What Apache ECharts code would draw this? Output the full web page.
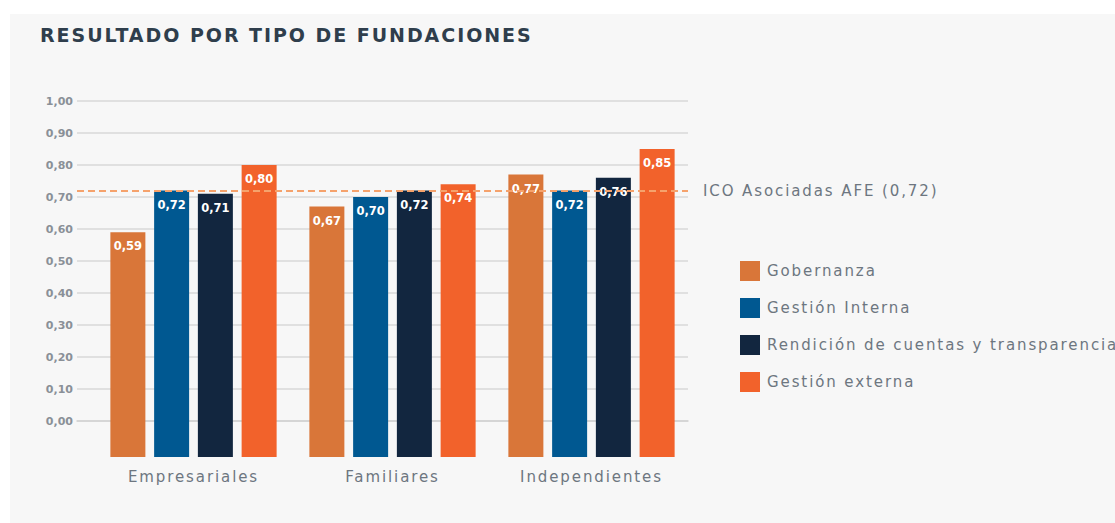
<!DOCTYPE html>
<html>
<head>
<meta charset="utf-8">
<script src="https://cdn.jsdelivr.net/npm/echarts@6/dist/echarts.min.js"></script>
<style>
    html, body { margin: 0; padding: 0; background: #fff; }
    #panel { position: absolute; left: 10px; top: 14px; width: 1105px; height: 509px; background: #f7f7f7; }
    #chart { position: absolute; left: 0; top: 0; width: 1115px; height: 523px; }
    /* texto espaciado como en el original */
    #chart text[style*="15px"] { letter-spacing: 1.9px; }
    #chart text[style*="19px"] { letter-spacing: 1.95px; }
</style>
</head>
<body>
<div id="panel"></div>
<div id="chart"></div>
<script>
    let categories = ['Empresariales', 'Familiares', 'Independientes'];
    let gobernanza = [0.59, 0.67, 0.77];
    let gestionInterna = [0.72, 0.70, 0.72];
    let rendicion = [0.71, 0.72, 0.76];
    let gestionExterna = [0.80, 0.74, 0.85];
    let icoAfe = 0.72;//línea de referencia

    function coma(v) {
        return v.toFixed(2).replace('.', ',');
    }

    let myChart = echarts.init(document.getElementById('chart'), null, { renderer: 'svg' });

    let textGris = '#6d7680';
    let fuente = 'DejaVu Sans';

    function barra(name, data, color) {
        return {
            name: name,
            type: 'bar',
            xAxisIndex: 1,
            yAxisIndex: 1,
            barWidth: 35,
            barGap: '25%',
            itemStyle: { color: color },
            label: {
                show: true,
                position: 'insideTop',
                distance: 8,
                color: '#fff',
                fontSize: 11.5,
                fontWeight: 'bold',
                fontFamily: fuente,
                formatter: p => coma(p.value)
            },
            data: data
        };
    }

    let option = {
        title: {
            text: 'RESULTADO POR TIPO DE FUNDACIONES',
            left: 40,
            top: 25,
            padding: 0,
            textStyle: {
                color: '#2f3e4c',
                fontSize: 19,
                fontWeight: 'bold',
                fontFamily: fuente
            }
        },
        legend: {
            orient: 'vertical',
            left: 735,
            top: 256,
            itemWidth: 20,
            itemHeight: 20,
            itemGap: 17,
            icon: 'rect',
            data: ['Gobernanza', 'Gestión Interna', 'Rendición de cuentas y transparencia', 'Gestión externa'],
            textStyle: {
                color: textGris,
                fontSize: 15,
                fontFamily: fuente,
                padding: [0, 0, 0, 2]
            }
        },
        grid: [
            { left: 77, right: 427, top: 101, height: 320 },//rejilla de etiquetas
            { left: 94, right: 424, top: 101, height: 356 } //barras
        ],
        xAxis: [{
            gridIndex: 0,
            type: 'category',
            data: [''],
            offset: 36,
            axisLine: { show: true, lineStyle: { color: '#d2d2d2', width: 1.5 } },
            axisTick: { show: false },
            axisLabel: { show: false }
        }, {
            gridIndex: 1,
            type: 'category',
            data: categories,
            axisLine: { show: false },
            axisTick: { show: false },
            axisLabel: {
                color: textGris,
                fontSize: 15,
                fontFamily: fuente,
                margin: 12
            }
        }],
        yAxis: [{
            gridIndex: 0,
            type: 'value',
            min: 0,
            max: 1,
            interval: 0.1,
            axisLine: { show: false },
            axisTick: { show: false },
            splitLine: { lineStyle: { color: '#d9d9d9', width: 1.5 } },
            axisLabel: {
                color: '#8a9097',
                fontSize: 11,
                fontWeight: 'bold',
                fontFamily: fuente,
                margin: 4,
                formatter: v => coma(v)
            }
        }, {
            gridIndex: 1,
            type: 'value',
            min: -0.1125,
            max: 1,
            startValue: -0.1125,
            show: false,
            splitLine: { show: false }
        }],
        series: [
            barra('Gobernanza', gobernanza, '#d97639'),
            barra('Gestión Interna', gestionInterna, '#005891'),
            barra('Rendición de cuentas y transparencia', rendicion, '#12263f'),
            barra('Gestión externa', gestionExterna, '#f2622b'),
            {
                name: 'ICO',
                type: 'line',
                xAxisIndex: 0,
                yAxisIndex: 0,
                data: [],
                markLine: {
                    silent: true,
                    symbol: 'none',
                    lineStyle: { color: '#f5a26c', type: [7, 4], width: 2 },
                    label: {
                        position: 'end',
                        distance: 15,
                        color: textGris,
                        fontSize: 15,
                        fontFamily: fuente,
                        formatter: 'ICO Asociadas AFE (' + coma(icoAfe) + ')'
                    },
                    data: [{ yAxis: icoAfe }]
                }
            }
        ]
    };

    myChart.setOption(option);
</script>
</body>
</html>
